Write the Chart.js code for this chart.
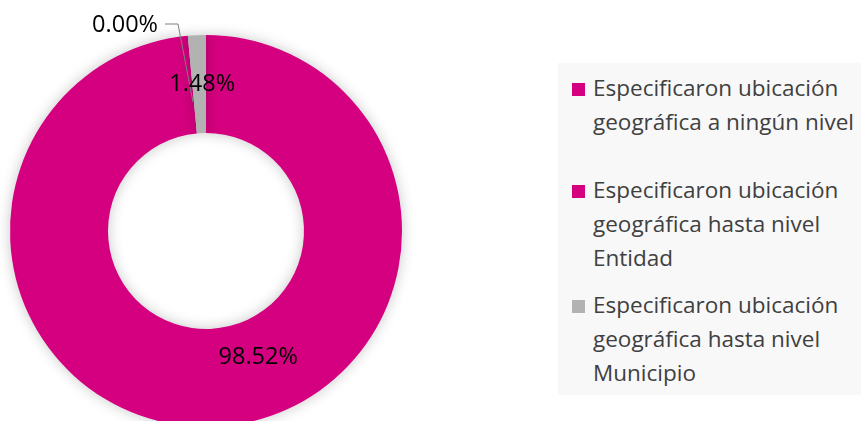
<!DOCTYPE html>
<html>
<head>
<meta charset="utf-8">
<script src="https://cdn.jsdelivr.net/npm/chart.js@4.4.0/dist/chart.umd.min.js"></script>
<style>
  html, body { margin: 0; padding: 0; background: #fff; overflow: hidden; width: 861px; height: 421px; }
  #wrap { position: relative; width: 861px; height: 421px; }
  #chart { position: absolute; left: 0; top: 0; }
  #legend {
    position: absolute; left: 558px; top: 63px; width: 303px; height: 332px;
    background: #f8f8f8; font-family: "Open Sans", sans-serif; font-size: 22.5px;
    color: #404040; line-height: 34px;
  }
  .item { position: absolute; left: 14px; width: 280px; padding-left: 21px; }
  .box { position: absolute; left: 0; top: 12px; width: 13px; height: 13px; }
</style>
</head>
<body>
<div id="wrap">
  <canvas id="chart"></canvas>
  <div id="legend"></div>
</div>
<script>
const categories = [
  "Especificaron ubicación geográfica a ningún nivel",
  "Especificaron ubicación geográfica hasta nivel Entidad",
  "Especificaron ubicación geográfica hasta nivel Municipio"
];
const percentages = [0.0, 98.52, 1.48];
const sliceColors = ["#d5007f", "#d5007f", "#b2b2b2"];

// legend item tops (px inside legend panel)
const legendTops = [8, 110, 225];

function buildLegend() {
  const legend = document.getElementById("legend");
  categories.forEach((name, i) => {
    const div = document.createElement("div");
    div.className = "item";
    div.style.top = legendTops[i] + "px";
    div.innerHTML = '<span class="box" style="background:' + sliceColors[i] + '"></span>' + name;
    legend.appendChild(div);
  });
}

// soft shadow behind the ring
const shadowPlugin = {
  id: "ringShadow",
  beforeDatasetsDraw(chart) {
    const ctx = chart.ctx;
    ctx.save();
    ctx.shadowColor = "rgba(0,0,0,0.22)";
    ctx.shadowBlur = 14;
  },
  afterDatasetsDraw(chart) {
    chart.ctx.restore();
  },
};

// percentage labels, with a leader line for the empty slice
const labelPlugin = {
  id: "pctLabels",
  afterDraw(chart) {
    const ctx = chart.ctx;
    const arcs = chart.getDatasetMeta(0).data;
    ctx.save();
    ctx.font = "23.5px 'Open Sans', sans-serif";
    ctx.fillStyle = "#000";
    ctx.textBaseline = "middle";
    arcs.forEach((arc, i) => {
      const txt = percentages[i].toFixed(2) + "%";
      const midR = (arc.innerRadius + arc.outerRadius) / 2;
      if (percentages[i] === 0) {
        // label sits up-left outside the ring
        const lx = arc.x - 41;
        const ly = arc.y - arc.outerRadius - 11;
        ctx.textAlign = "right";
        ctx.fillText(txt, lx - 7, ly + 1);
        ctx.strokeStyle = "#7f7f7f";
        ctx.lineWidth = 1;
        ctx.beginPath();
        ctx.moveTo(lx, ly);
        ctx.lineTo(lx + 13, ly);
        ctx.lineTo(arc.x - 13, arc.y - midR + 18);
        ctx.stroke();
        return;
      }
      ctx.textAlign = "center";
      let p = arc.tooltipPosition();
      if (percentages[i] > 50) {
        // big slice label, sits lower-right like the original
        const a = Math.PI / 2 - 0.37;
        p = { x: arc.x + Math.cos(a) * (midR - 11), y: arc.y + Math.sin(a) * (midR - 11) };
      }
      ctx.fillText(txt, p.x + 3, p.y);
    });
    ctx.restore();
  },
};

function plot() {
  const canvas = document.getElementById("chart");
  canvas.width = 861;
  canvas.height = 440;
  canvas.style.width = "861px";
  canvas.style.height = "440px";
  const config = {
    type: "doughnut",
    data: {
      labels: categories,
      datasets: [{
        data: percentages,
        backgroundColor: sliceColors,
        borderWidth: 0,
      }],
    },
    options: {
      responsive: false,
      animation: false,
      cutout: "50%",
      layout: { padding: { left: 10, right: 459, top: 35, bottom: 13 } },
      plugins: {
        legend: { display: false },
        tooltip: { enabled: false },
      },
    },
    plugins: [shadowPlugin, labelPlugin],
  };
  return new Chart(canvas, config);
}

buildLegend();
plot();
</script>
</body>
</html>
